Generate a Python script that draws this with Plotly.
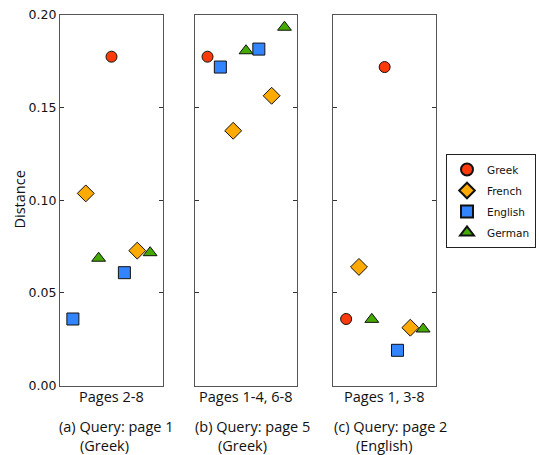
import plotly.graph_objects as go

W, H = 539, 455

languages = ["Greek", "French", "English", "German"]
colors = {"Greek": "#ff3a0a", "French": "#ffaa00", "English": "#3385ff", "German": "#44aa00"}
symbols = {"Greek": "circle", "French": "diamond", "English": "square", "German": "triangle-up"}
sizes = {"Greek": 11, "French": 13, "English": 12, "German": 12}

# Panel (a): query page 1 (Greek), pages 2-8
pages_a = [2, 3, 4, 5, 6, 7, 8]
langs_a = ["English", "French", "German", "Greek", "English", "French", "German"]
vals_a = [0.0359, 0.1037, 0.0687, 0.1775, 0.0609, 0.0728, 0.0717]

# Panel (b): query page 5 (Greek), pages 1-4, 6-8
pages_b = [1, 2, 3, 4, 6, 7, 8]
langs_b = ["Greek", "English", "French", "German", "English", "French", "German"]
vals_b = [0.1775, 0.1719, 0.1375, 0.1807, 0.1816, 0.1564, 0.1934]

# Panel (c): query page 2 (English), pages 1, 3-8
pages_c = [1, 3, 4, 5, 6, 7, 8]
langs_c = ["Greek", "French", "German", "Greek", "English", "French", "German"]
vals_c = [0.0359, 0.0640, 0.0357, 0.1719, 0.0190, 0.0312, 0.0305]

panel_labels = ["Pages 2-8", "Pages 1-4, 6-8", "Pages 1, 3-8"]
caption_l1 = ["(a) Query: page 1", "(b) Query: page 5", "(c) Query: page 2"]
caption_l2 = ["(Greek)", "(Greek)", "(English)"]

yticks = [0.0, 0.05, 0.10, 0.15, 0.20]

panels = [(pages_a, langs_a, vals_a), (pages_b, langs_b, vals_b), (pages_c, langs_c, vals_c)]
xdom_px = [(60, 163), (194.7, 297.3), (333.3, 436)]
ytop, ybot = 15, 385.5

fig = go.Figure()
for lang in languages:
    for pi, (pages, langs, vals) in enumerate(panels):
        xs = [i + 1 for i, l in enumerate(langs) if l == lang]
        ys = [v for v, l in zip(vals, langs) if l == lang]
        sfx = "" if pi == 0 else str(pi + 1)
        fig.add_trace(go.Scatter(
            x=xs, y=ys, mode="markers", name=lang, legendgroup=lang,
            showlegend=(pi == 0),
            xaxis="x" + sfx, yaxis="y" + sfx,
            marker=dict(symbol=symbols[lang], size=sizes[lang], color=colors[lang],
                        line=dict(color="#111111", width=1)),
            cliponaxis=False,
        ))

frame = "#555555"
layout = dict(
    width=W, height=H,
    margin=dict(l=0, r=0, t=0, b=0, autoexpand=False),
    paper_bgcolor="white", plot_bgcolor="white",
    showlegend=True,
    legend=dict(x=446 / W, y=1 - 154 / H, xanchor="left", yanchor="top",
                bgcolor="white", bordercolor="#222222", borderwidth=1,
                font=dict(family="DejaVu Sans", size=10.5, color="#111111"),
                itemsizing="constant", itemwidth=30, tracegroupgap=2),
)
for pi in range(3):
    sfx = "" if pi == 0 else str(pi + 1)
    x0, x1 = xdom_px[pi]
    layout["xaxis" + sfx] = dict(
        domain=[x0 / W, x1 / W], range=[0, 8], showgrid=False, zeroline=False,
        showticklabels=False, ticks="", showline=True, mirror=True,
        linecolor=frame, linewidth=1.3, anchor="y" + sfx,
    )
    layout["yaxis" + sfx] = dict(
        domain=[1 - ybot / H, 1 - ytop / H], range=[0, 0.2], showgrid=False, zeroline=False,
        tickvals=yticks, tickformat=".2f", ticks="inside", ticklen=4, tickcolor="#333333",
        showticklabels=(pi == 0), showline=True, mirror="ticks",
        linecolor=frame, linewidth=1.3, anchor="x" + sfx,
        tickfont=dict(family="DejaVu Sans", size=12.5, color="#111111"),
    )
fig.update_layout(**layout)

txtfont = dict(family="Open Sans", size=14.5, color="#111111")
ann = []
for pi in range(3):
    x0, x1 = xdom_px[pi]
    ann.append(dict(x=(x0 + x1) / 2 / W, y=1 - 396 / H, xref="paper", yref="paper",
                    text=panel_labels[pi], showarrow=False, xanchor="center", yanchor="middle",
                    font=txtfont))
cap_x1 = [56.7, 193.3, 332.3]
cap_x2 = [78, 215.7, 354.3]
for pi in range(3):
    ann.append(dict(x=cap_x1[pi] / W, y=1 - 426.5 / H, xref="paper", yref="paper",
                    text=caption_l1[pi], showarrow=False, xanchor="left", yanchor="middle",
                    font=txtfont))
    ann.append(dict(x=cap_x2[pi] / W, y=1 - 445 / H, xref="paper", yref="paper",
                    text=caption_l2[pi], showarrow=False, xanchor="left", yanchor="middle",
                    font=txtfont))
ann.append(dict(x=18.5 / W, y=1 - 200 / H, xref="paper", yref="paper", text="Distance",
                showarrow=False, textangle=-90, xanchor="center", yanchor="middle",
                font=txtfont))
fig.update_layout(annotations=ann)

fig.write_html("out.html", config={"displayModeBar": False},
               post_script="document.body.style.margin='0px';document.body.style.overflow='hidden';")
